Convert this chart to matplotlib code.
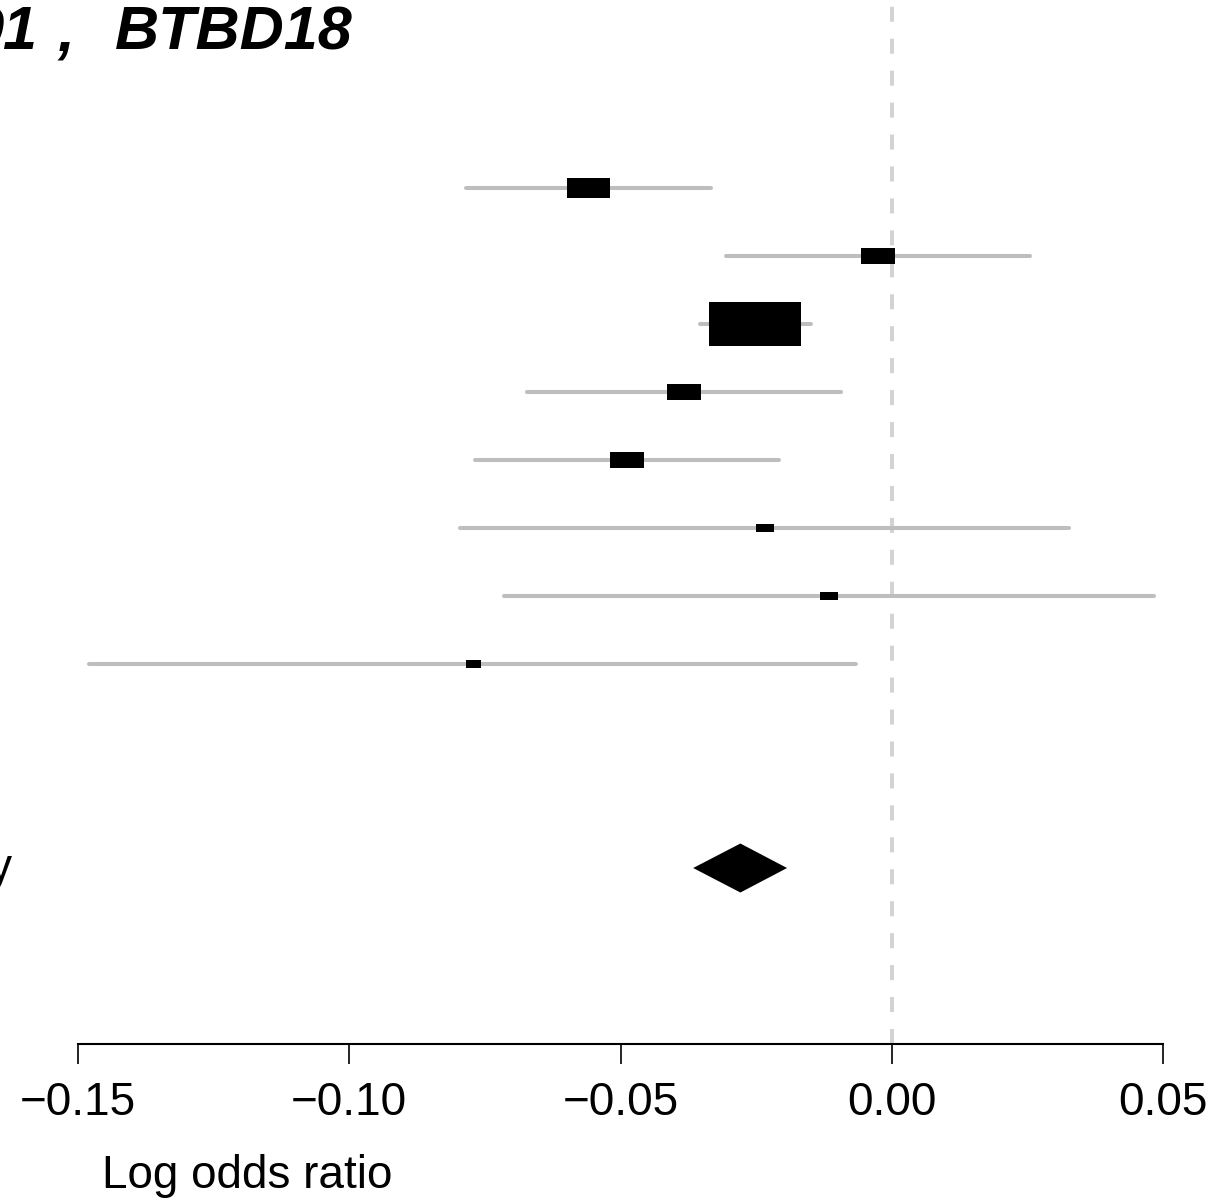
import matplotlib
matplotlib.use('Agg')
import matplotlib.pyplot as plt
from matplotlib.patches import Rectangle, Polygon

####################################################
##                  Data
####################################################

# log odds ratio per study, with 95% CI
estimate = [-0.0559, -0.0026, -0.0252, -0.0383, -0.0488, -0.0234, -0.0116, -0.0771]
ci_low = [-0.0785, -0.0306, -0.0354, -0.0673, -0.0769, -0.0796, -0.0715, -0.1480]
ci_high = [-0.0334, 0.0254, -0.0149, -0.0094, -0.0208, 0.0326, 0.0483, -0.0065]
# box widths (study weight), in log odds ratio units
box_width = [0.0079, 0.0063, 0.0171, 0.0063, 0.0063, 0.0033, 0.0033, 0.0028]

# pooled estimate
summary_est = -0.0279
summary_low = -0.0366
summary_high = -0.0193

xticks = [-0.15, -0.10, -0.05, 0.00, 0.05]
xtick_labels = ['\u22120.15', '\u22120.10', '\u22120.05', '0.00', '0.05']

title_parts = ['91', ',', 'BTBD18']
summary_label = 'Summary'

####################################################
##                  Plot
####################################################

W, H = 1217, 1198
plt.rcParams['font.family'] = ['Liberation Sans', 'DejaVu Sans']
plt.rcParams['lines.scale_dashes'] = False

fig = plt.figure(figsize=(W / 100, H / 100), dpi=100)
ax = fig.add_axes([78 / W, (H - 1044) / H, 1085 / W, 1044 / H])

ymin, ymax = -1.765, 13.588
ax.set_xlim(-0.15, 0.05)
ax.set_ylim(ymax, ymin)

rows = list(range(1, len(estimate) + 1))
summary_row = rows[-1] + 3

# px per unit, used to keep the boxes at the same shape as the original
px_x = 1085 / 0.2
px_y = 1044 / (ymax - ymin)

# zero line
ax.plot([0, 0], [ymax, ymin], color='#d3d3d3', lw=2.9, dashes=(10.8, 12.2),
        clip_on=False, zorder=1)

for y, est, lo, hi, bw in zip(rows, estimate, ci_low, ci_high, box_width):
    ax.plot([lo, hi], [y, y], color='#bebebe', lw=2.9, solid_capstyle='round', zorder=2)
    bh = bw * px_x / 2.15 / px_y
    ax.add_patch(Rectangle((est - bw / 2, y - bh / 2), bw, bh, color='black', lw=0, zorder=3))

dh = 24.5 / px_y
ax.add_patch(Polygon([[summary_low, summary_row], [summary_est, summary_row - dh],
                      [summary_high, summary_row], [summary_est, summary_row + dh]],
                     closed=True, color='black', lw=0, zorder=3))

for s in ['left', 'right', 'top']:
    ax.spines[s].set_visible(False)
ax.spines['bottom'].set_linewidth(1.5)
ax.spines['bottom'].set_bounds(-0.15, 0.05)
ax.set_yticks([])
ax.set_xticks(xticks)
ax.set_xticklabels(xtick_labels, fontsize=33)
ax.tick_params(axis='x', length=14.4, width=1.2, pad=12)

fig.text(102 / W, 1 - 1188 / H, 'Log odds ratio', fontsize=33, ha='left', va='baseline')

# title, cut at the left edge like the original
tkw = dict(fontsize=44, fontweight='bold', fontstyle='italic', va='baseline')
fig.text(38 / W, 1 - 50 / H, title_parts[0], ha='right', **tkw)
fig.text(58 / W, 1 - 50 / H, title_parts[1], ha='left', **tkw)
fig.text(115 / W, 1 - 50 / H, title_parts[2], ha='left', **tkw)

fig.text(13 / W, 1 - 881 / H, summary_label, fontsize=33, ha='right', va='baseline')

plt.savefig('out.png', dpi=100)
